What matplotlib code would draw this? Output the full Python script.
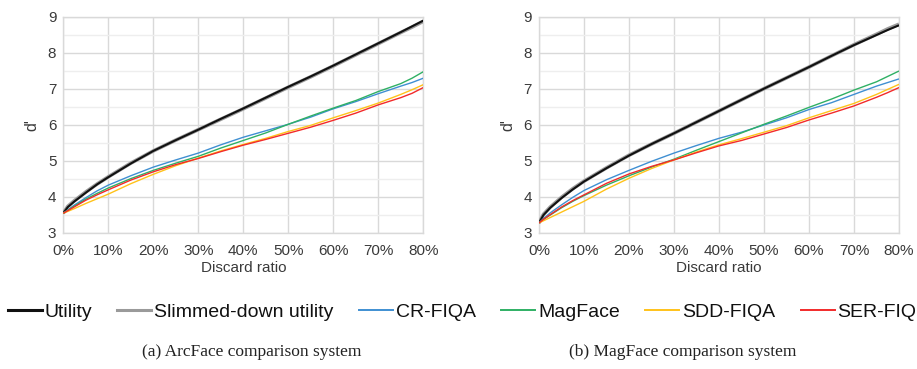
import matplotlib
matplotlib.use("Agg")
import matplotlib.pyplot as plt
from matplotlib.ticker import MultipleLocator, PercentFormatter
from matplotlib.lines import Line2D

plt.rcParams["font.family"] = ["Liberation Sans", "DejaVu Sans"]

# Discard ratio (%) shared by all curves
discard = [0, 1, 2.5, 5, 7.5, 10, 15, 20, 25, 30, 35, 40, 45, 50, 55, 60, 65, 70, 75, 77.5, 80]

series_names = ["Utility", "Slimmed-down utility", "CR-FIQA", "MagFace", "SDD-FIQA", "SER-FIQ"]

# (a) ArcFace comparison system: d' per discard ratio
arc_utility = [3.55, 3.72, 3.88, 4.12, 4.35, 4.55, 4.93, 5.28, 5.58, 5.87, 6.17, 6.46, 6.76, 7.06, 7.35, 7.65, 7.96, 8.27, 8.58, 8.74, 8.90]
arc_slimmed = [3.55, 3.74, 3.90, 4.14, 4.36, 4.56, 4.94, 5.28, 5.58, 5.87, 6.16, 6.45, 6.75, 7.05, 7.34, 7.64, 7.95, 8.26, 8.57, 8.72, 8.88]
arc_crfiqa = [3.55, 3.64, 3.78, 3.98, 4.17, 4.33, 4.59, 4.83, 5.03, 5.22, 5.45, 5.66, 5.84, 6.02, 6.22, 6.45, 6.65, 6.87, 7.08, 7.18, 7.30]
arc_magface = [3.55, 3.63, 3.75, 3.94, 4.10, 4.25, 4.51, 4.74, 4.94, 5.13, 5.36, 5.57, 5.78, 6.02, 6.25, 6.47, 6.68, 6.93, 7.15, 7.30, 7.48]
arc_sddfiqa = [3.55, 3.60, 3.68, 3.82, 3.95, 4.08, 4.37, 4.63, 4.87, 5.08, 5.28, 5.46, 5.63, 5.82, 5.99, 6.20, 6.40, 6.61, 6.85, 6.98, 7.12]
arc_serfiq = [3.55, 3.62, 3.73, 3.91, 4.06, 4.20, 4.47, 4.70, 4.90, 5.07, 5.26, 5.44, 5.60, 5.77, 5.94, 6.13, 6.33, 6.56, 6.76, 6.88, 7.04]

# (b) MagFace comparison system: d' per discard ratio
mag_utility = [3.28, 3.50, 3.70, 3.97, 4.21, 4.43, 4.80, 5.15, 5.47, 5.77, 6.08, 6.39, 6.70, 7.01, 7.31, 7.61, 7.92, 8.22, 8.50, 8.64, 8.77]
mag_slimmed = [3.28, 3.52, 3.72, 3.99, 4.23, 4.44, 4.81, 5.16, 5.47, 5.77, 6.08, 6.39, 6.70, 7.01, 7.31, 7.61, 7.92, 8.23, 8.52, 8.67, 8.80]
mag_crfiqa = [3.28, 3.40, 3.56, 3.78, 3.99, 4.18, 4.48, 4.74, 4.99, 5.22, 5.43, 5.63, 5.80, 6.00, 6.20, 6.43, 6.62, 6.85, 7.08, 7.18, 7.28]
mag_magface = [3.28, 3.38, 3.50, 3.70, 3.88, 4.04, 4.33, 4.59, 4.83, 5.05, 5.30, 5.54, 5.78, 6.02, 6.25, 6.49, 6.72, 6.97, 7.20, 7.35, 7.50]
mag_sddfiqa = [3.28, 3.34, 3.43, 3.58, 3.73, 3.88, 4.22, 4.52, 4.79, 5.03, 5.25, 5.45, 5.62, 5.80, 5.98, 6.20, 6.40, 6.60, 6.85, 6.99, 7.13]
mag_serfiq = [3.28, 3.38, 3.51, 3.72, 3.90, 4.06, 4.38, 4.64, 4.85, 5.03, 5.23, 5.42, 5.57, 5.75, 5.93, 6.14, 6.33, 6.53, 6.77, 6.90, 7.04]

captions = ["(a) ArcFace comparison system", "(b) MagFace comparison system"]

colors = ["#111111", "#9a9a9a", "#3f8fd2", "#2fb064", "#ffc21a", "#f22a2a"]
widths = [1.5, 2.6, 1.0, 1.0, 1.0, 1.0]
zorders = [4, 3, 5, 5, 5, 5]

W, H = 917, 369
fig = plt.figure(figsize=(W / 100, H / 100), dpi=100)

grid_major = "#d9d9d9"
grid_minor = "#eeeeee"
text_col = "#3a3a3a"

panels = [
    (63.3, [arc_utility, arc_slimmed, arc_crfiqa, arc_magface, arc_sddfiqa, arc_serfiq], 252),
    (539.0, [mag_utility, mag_slimmed, mag_crfiqa, mag_magface, mag_sddfiqa, mag_serfiq], 683),
]

for i, (x0, data, cap_x) in enumerate(panels):
    ax = fig.add_axes([x0 / W, 1 - 233 / H, 360 / W, 216 / H])
    # slimmed-down first, then utility, then the FIQA curves
    order = [1, 0, 2, 3, 4, 5]
    for k in order:
        ax.plot(discard, data[k], color=colors[k], lw=widths[k], zorder=zorders[k],
                solid_capstyle="butt")
    ax.set_xlim(0, 80)
    ax.set_ylim(3, 9)
    ax.xaxis.set_major_locator(MultipleLocator(10))
    ax.xaxis.set_major_formatter(PercentFormatter(xmax=100, decimals=0))
    ax.yaxis.set_major_locator(MultipleLocator(1))
    ax.yaxis.set_minor_locator(MultipleLocator(0.5))
    ax.grid(which="major", axis="both", color=grid_major, lw=1.0, zorder=0)
    ax.grid(which="minor", axis="y", color=grid_minor, lw=1.0, zorder=0)
    ax.set_axisbelow(True)
    for s in ax.spines.values():
        s.set_color(grid_major)
        s.set_linewidth(1.0)
    ax.tick_params(which="both", length=0, labelsize=11, colors=text_col)
    ax.tick_params(axis="x", pad=8)
    ax.tick_params(axis="y", pad=5)
    ax.set_xlabel("Discard ratio", fontsize=11, color=text_col, labelpad=2)
    ax.set_ylabel("d'", fontsize=11.5, color=text_col, labelpad=6)
    fig.text(cap_x / W, 1 - 352 / H, captions[i], ha="center", va="center",
             fontsize=12.5, family=["Liberation Serif", "DejaVu Serif"], color="#222222")

handles = [Line2D([], [], color=colors[k], lw=2.2 if k < 2 else 1.4) for k in range(6)]
fig.legend(handles, series_names, loc="center", bbox_to_anchor=(0.5 + 3.5 / W, 1 - 312 / H),
           ncol=6, frameon=False, fontsize=14, handlelength=1.75, handletextpad=0.15,
           columnspacing=1.3, labelcolor="#111111")

fig.savefig("out.png", dpi=100)
